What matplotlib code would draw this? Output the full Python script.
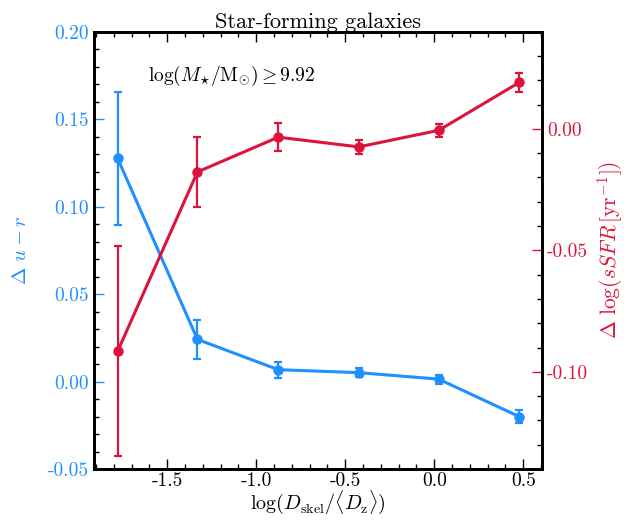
import numpy as np
import matplotlib
matplotlib.use("Agg")
import matplotlib.pyplot as plt
from matplotlib.ticker import MultipleLocator

plt.rcParams['font.family'] = 'serif'
plt.rcParams['font.serif'] = ['cmr10']
plt.rcParams['mathtext.fontset'] = 'cm'
plt.rcParams['axes.formatter.use_mathtext'] = True
plt.rcParams['axes.unicode_minus'] = True

#%% data
x_bins = [-1.779, -1.330, -0.876, -0.424, 0.025, 0.477]

du_r = [0.1277, 0.0241, 0.0068, 0.0051, 0.0014, -0.0200]
du_r_err = [0.038, 0.011, 0.0045, 0.0027, 0.0025, 0.0037]

dssfr = [-0.0916, -0.0177, -0.0034, -0.0074, -0.0006, 0.0191]
dssfr_err = [0.0432, 0.0143, 0.0058, 0.0030, 0.0028, 0.0041]

blue = '#1E90FF'
red = '#DC143C'

#%% plot
fig = plt.figure(figsize=(6.24, 5.2), dpi=100)
ax1 = fig.add_axes([0.151, 0.098, 0.718, 0.841])
ax2 = ax1.twinx()

ax1.errorbar(x_bins, du_r, yerr=du_r_err, color=blue, marker='o', ms=6.5,
             lw=2.2, elinewidth=1.6, capsize=3, capthick=1.6)
ax2.errorbar(x_bins, dssfr, yerr=dssfr_err, color=red, marker='o', ms=6.5,
             lw=2.2, elinewidth=1.6, capsize=3, capthick=1.6)

ax1.set_xlim(-1.91, 0.607)
ax1.set_ylim(-0.05, 0.20)
ax2.set_ylim(-0.14, 0.04)

ax1.xaxis.set_major_locator(MultipleLocator(0.5))
ax1.xaxis.set_minor_locator(MultipleLocator(0.1))
ax1.yaxis.set_major_locator(MultipleLocator(0.05))
ax1.yaxis.set_minor_locator(MultipleLocator(0.01))
ax2.yaxis.set_major_locator(MultipleLocator(0.05))
ax2.yaxis.set_minor_locator(MultipleLocator(0.01))
ax1.yaxis.set_major_formatter(plt.FormatStrFormatter('%.2f'))
ax2.yaxis.set_major_formatter(plt.FormatStrFormatter('%.2f'))
ax1.xaxis.set_major_formatter(plt.FormatStrFormatter('%.1f'))

ax1.tick_params(axis='x', which='both', direction='in', top=True, labelsize=14,
                pad=2)
ax1.tick_params(axis='x', which='major', length=7, width=1)
ax1.tick_params(axis='x', which='minor', length=3.5, width=1)
ax1.tick_params(axis='y', which='major', direction='in', length=7, width=1,
                color=blue, labelcolor=blue, labelsize=14)
ax1.tick_params(axis='y', which='minor', direction='in', length=3.5, width=1)
ax2.tick_params(axis='y', which='major', direction='in', length=7, width=1,
                color=red, labelcolor=red, labelsize=14)
ax2.tick_params(axis='y', which='minor', direction='in', length=3.5, width=1)

for ax in (ax1, ax2):
    for s in ax.spines.values():
        s.set_linewidth(2)

ax1.set_xlabel(r'$\log(D_{\rm skel}/\langle D_{\rm z}\rangle)$', fontsize=14.5,
               labelpad=-1)
ax1.set_ylabel(r'$\Delta\ u-r$', fontsize=15, color=blue, labelpad=13)
ax2.set_ylabel(r'$\Delta\ \log(sSFR\,[\rm yr^{-1}])$', fontsize=15.5, color=red,
               labelpad=5)
ax1.set_title('Star-forming galaxies', fontsize=16, pad=3)

ax1.text(0.12, 0.9, r'$\log(M_{\star}/\rm M_{\odot}) \geq 9.92$', fontsize=14,
         transform=ax1.transAxes, va='center')

fig.savefig('out.png', dpi=100)
